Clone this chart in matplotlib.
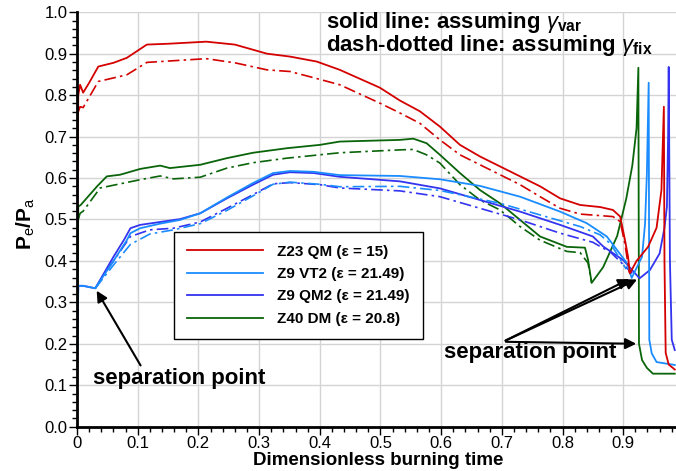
import matplotlib
matplotlib.use("Agg")
import matplotlib.pyplot as plt
import numpy as np
from matplotlib.lines import Line2D

plt.rcParams['font.family'] = ['Liberation Sans', 'DejaVu Sans']
plt.rcParams['mathtext.fontset'] = 'custom'
plt.rcParams['mathtext.rm'] = 'Liberation Sans'
plt.rcParams['mathtext.bf'] = 'Liberation Sans:bold'
plt.rcParams['mathtext.it'] = 'Liberation Sans:italic'

# colors for the four nozzles
RED = "#d40000"
LBLUE = "#1a8cff"
BLUE = "#3333f0"
GREEN = "#0a640a"

labels = ["Z23 QM (\u03b5 = 15)", "Z9 VT2 (\u03b5 = 21.49)",
          "Z9 QM2 (\u03b5 = 21.49)", "Z40 DM (\u03b5 = 20.8)"]

# Z23 QM, gamma var (solid)
red_x = [0, 0.002, 0.005, 0.010, 0.020, 0.035, 0.060, 0.082, 0.115, 0.15, 0.213,
         0.26, 0.313, 0.351, 0.395, 0.433, 0.499, 0.532, 0.565, 0.598, 0.631, 0.664,
         0.697, 0.730, 0.763, 0.796, 0.829, 0.862, 0.883, 0.895, 0.903, 0.908, 0.911,
         0.922, 0.941, 0.955, 0.963, 0.967, 0.968, 0.970, 0.975, 0.985]
red_y = [0.45, 0.80, 0.825, 0.806, 0.83, 0.869, 0.878, 0.89, 0.922, 0.924, 0.929,
         0.922, 0.90, 0.893, 0.881, 0.861, 0.818, 0.787, 0.761, 0.724, 0.68, 0.652,
         0.628, 0.604, 0.58, 0.551, 0.535, 0.53, 0.523, 0.507, 0.45, 0.41, 0.37,
         0.40, 0.434, 0.48, 0.571, 0.772, 0.40, 0.178, 0.150, 0.138]
# Z23 QM, gamma fix (dash-dot)
red_fx = [0.002, 0.005, 0.010, 0.035, 0.082, 0.115, 0.213, 0.26, 0.313, 0.351, 0.39,
          0.433, 0.50, 0.532, 0.565, 0.598, 0.631, 0.664, 0.697, 0.730, 0.763, 0.796,
          0.829, 0.883, 0.895, 0.903, 0.910]
red_fy = [0.76, 0.772, 0.77, 0.833, 0.849, 0.879, 0.888, 0.878, 0.861, 0.857, 0.842,
          0.825, 0.78, 0.757, 0.732, 0.692, 0.656, 0.632, 0.608, 0.584, 0.555, 0.527,
          0.513, 0.507, 0.495, 0.44, 0.372]

# Z9 VT2, gamma var
lb_x = [0, 0.002, 0.010, 0.030, 0.060, 0.082, 0.088, 0.104, 0.137, 0.17, 0.203, 0.247,
        0.29, 0.323, 0.351, 0.39, 0.433, 0.532, 0.598, 0.664, 0.730, 0.796, 0.840,
        0.873, 0.906, 0.914, 0.931, 0.936, 0.939, 0.942, 0.943, 0.947, 0.955, 0.985]
lb_y = [0.10, 0.34, 0.34, 0.334, 0.40, 0.45, 0.467, 0.479, 0.49, 0.499, 0.515, 0.553,
        0.588, 0.612, 0.617, 0.615, 0.607, 0.605, 0.597, 0.581, 0.555, 0.519, 0.491,
        0.459, 0.395, 0.359, 0.41, 0.49, 0.61, 0.83, 0.21, 0.177, 0.156, 0.149]
# Z9 VT2, gamma fix
lb_fx = [0.030, 0.060, 0.088, 0.12, 0.159, 0.203, 0.247, 0.29, 0.323, 0.351, 0.40,
         0.433, 0.532, 0.598, 0.697, 0.763, 0.829, 0.862, 0.88, 0.905]
lb_fy = [0.334, 0.39, 0.44, 0.465, 0.475, 0.49, 0.522, 0.557, 0.585, 0.59, 0.585,
         0.579, 0.58, 0.57, 0.539, 0.511, 0.483, 0.463, 0.44, 0.38]

# Z9 QM2, gamma var
bl_x = [0, 0.002, 0.010, 0.030, 0.060, 0.077, 0.088, 0.104, 0.137, 0.17, 0.203, 0.247,
        0.29, 0.323, 0.351, 0.39, 0.433, 0.532, 0.598, 0.664, 0.730, 0.796, 0.85,
        0.867, 0.90, 0.927, 0.944, 0.96, 0.968, 0.972, 0.974, 0.975, 0.977, 0.980,
        0.985]
bl_y = [0.20, 0.34, 0.34, 0.334, 0.41, 0.45, 0.479, 0.487, 0.494, 0.501, 0.515, 0.551,
        0.584, 0.608, 0.614, 0.612, 0.603, 0.592, 0.575, 0.547, 0.519, 0.487, 0.459,
        0.435, 0.402, 0.358, 0.378, 0.418, 0.48, 0.53, 0.70, 0.868, 0.40, 0.21, 0.185]
# Z9 QM2, gamma fix
bl_fx = [0.030, 0.060, 0.088, 0.12, 0.159, 0.203, 0.247, 0.29, 0.323, 0.351, 0.40,
         0.433, 0.532, 0.598, 0.664, 0.730, 0.796, 0.85, 0.88, 0.915]
bl_fy = [0.334, 0.40, 0.459, 0.475, 0.479, 0.494, 0.527, 0.56, 0.586, 0.589, 0.584,
         0.576, 0.569, 0.555, 0.527, 0.499, 0.467, 0.445, 0.42, 0.37]

# Z40 DM, gamma var
gr_x = [0, 0.002, 0.006, 0.033, 0.049, 0.071, 0.104, 0.137, 0.153, 0.203, 0.247, 0.29,
        0.346, 0.40, 0.433, 0.532, 0.554, 0.576, 0.598, 0.631, 0.664, 0.697, 0.730,
        0.763, 0.807, 0.837, 0.842, 0.848, 0.867, 0.89, 0.905, 0.915, 0.922, 0.925,
        0.926, 0.931, 0.939, 0.949, 0.985]
gr_y = [0.20, 0.531, 0.535, 0.58, 0.604, 0.608, 0.622, 0.630, 0.624, 0.632, 0.648,
        0.661, 0.672, 0.68, 0.688, 0.692, 0.695, 0.684, 0.656, 0.612, 0.571, 0.539,
        0.499, 0.459, 0.434, 0.432, 0.403, 0.347, 0.385, 0.46, 0.55, 0.63, 0.72, 0.866,
        0.20, 0.161, 0.142, 0.128, 0.128]
# Z40 DM, gamma fix
gr_fx = [0.002, 0.005, 0.010, 0.038, 0.104, 0.137, 0.159, 0.203, 0.247, 0.29, 0.346,
         0.433, 0.532, 0.554, 0.576, 0.598, 0.631, 0.664, 0.697, 0.730, 0.763, 0.807,
         0.829, 0.842, 0.848]
gr_fy = [0.50, 0.515, 0.52, 0.576, 0.596, 0.605, 0.598, 0.602, 0.624, 0.637, 0.648,
         0.661, 0.668, 0.669, 0.656, 0.636, 0.584, 0.547, 0.523, 0.483, 0.45, 0.423,
         0.42, 0.395, 0.347]

fig = plt.figure(figsize=(6.76, 4.71), dpi=100)
ax = fig.add_axes([0.114, 0.094, 0.886, 0.880])

DASH = (7, 2.5, 1.5, 2.5)
curves = [
    (red_x, red_y, red_fx, red_fy, RED),
    (lb_x, lb_y, lb_fx, lb_fy, LBLUE),
    (bl_x, bl_y, bl_fx, bl_fy, BLUE),
    (gr_x, gr_y, gr_fx, gr_fy, GREEN),
]
for sx, sy, fx, fy, c in curves[::-1]:
    ax.plot(fx, fy, color=c, lw=1.2, dashes=DASH)
    ax.plot(sx, sy, color=c, lw=1.3)

ax.set_xlim(0, 0.987)
ax.set_ylim(0, 1.0)
ax.set_xticks(np.arange(0, 1.0, 0.1))
ax.set_xticklabels(["0"] + [f"{v:.1f}" for v in np.arange(0.1, 1.0, 0.1)])
ax.set_yticks(np.arange(0, 1.01, 0.1))
ax.set_yticklabels([f"{v:.1f}" for v in np.arange(0, 1.01, 0.1)])
ax.set_xticks(np.arange(0, 0.987, 0.02), minor=True)
ax.set_yticks(np.arange(0, 1.0, 0.02), minor=True)
ax.tick_params(which="major", direction="out", length=6, width=1, labelsize=12, pad=1)
ax.tick_params(which="minor", direction="out", length=3.5, width=1)
ax.grid(True, which="major", color="#d4d4d4", lw=1)
ax.set_axisbelow(True)
for s in ["top", "right"]:
    ax.spines[s].set_visible(False)
for s in ["left", "bottom"]:
    ax.spines[s].set_linewidth(2)

ax.set_xlabel("Dimensionless burning time", fontsize=13.5, fontweight="bold")
ax.xaxis.set_label_coords(0.503, -0.06)
ax.set_ylabel(r"$\mathbf{P}_{\mathrm{e}}\mathbf{/P}_{\mathrm{a}}$", fontsize=15)
ax.yaxis.set_label_coords(-0.067, 0.49)

handles = [Line2D([], [], color=c, lw=1.3) for c in [RED, LBLUE, BLUE, GREEN]]
leg = ax.legend(handles, labels, loc="lower left", bbox_to_anchor=(0.162, 0.212),
                prop={"weight": "bold", "size": 11}, handlelength=5.0,
                handletextpad=0.9, labelspacing=0.55, borderpad=0.85, borderaxespad=0,
                fancybox=False, framealpha=1, edgecolor="black")
leg.get_frame().set_linewidth(1)

ax.text(0.41, 0.975, r"solid line: assuming $\gamma_{\mathbf{var}}$",
        fontsize=16, fontweight="bold", va="center")
ax.text(0.41, 0.92, r"dash-dotted line: assuming $\gamma_{\mathbf{fix}}$",
        fontsize=16, fontweight="bold", va="center")

# separation points taken from the curves
def sep_point(xs, ys, lo, hi):
    xs = np.array(xs)
    ys = np.array(ys)
    m = (xs > lo) & (xs < hi)
    i = np.argmin(ys[m])
    return xs[m][i], ys[m][i]

arrow = dict(arrowstyle="-|>", color="black", lw=1.5, mutation_scale=16)
ax.annotate("", xy=sep_point(bl_x, bl_y, 0.01, 0.05), xytext=(0.107, 0.142),
            arrowprops=arrow)
ax.text(0.026, 0.117, "separation point", fontsize=16, fontweight="bold", va="center")
for xs, ys in [(gr_x, gr_y), (lb_x, lb_y), (bl_x, bl_y)]:
    ax.annotate("", xy=sep_point(xs, ys, 0.8, 0.93), xytext=(0.702, 0.205),
                arrowprops=arrow)
ax.text(0.605, 0.18, "separation point", fontsize=16, fontweight="bold", va="center")

fig.savefig("out.png", dpi=100)
